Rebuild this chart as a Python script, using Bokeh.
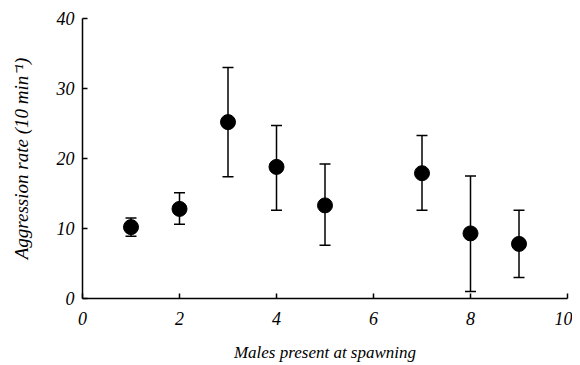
from bokeh.plotting import figure
from bokeh.models import ColumnDataSource, Range1d, FixedTicker, Whisker, TeeHead
from bokeh.embed import file_html
from bokeh.resources import INLINE

# Data
males = [1, 2, 3, 4, 5, 7, 8, 9]
rate_mean = [10.2, 12.8, 25.2, 18.8, 13.3, 17.9, 9.3, 7.8]
rate_upper = [11.5, 15.1, 33.0, 24.7, 19.2, 23.3, 17.5, 12.6]
rate_lower = [8.9, 10.6, 17.4, 12.6, 7.6, 12.6, 1.0, 3.0]
x_ticks = [0, 2, 4, 6, 8, 10]
y_ticks = [0, 10, 20, 30, 40]

src = ColumnDataSource(dict(x=males, y=rate_mean, upper=rate_upper, lower=rate_lower))

p = figure(width=572, height=365, output_backend="svg", toolbar_location=None,
           x_range=Range1d(0, 10), y_range=Range1d(0, 40),
           min_border_left=82, min_border_right=5, min_border_top=18, min_border_bottom=67)

p.outline_line_color = None
p.xgrid.visible = False
p.ygrid.visible = False

FONT = "'Liberation Serif'"
for ax in (p.xaxis[0], p.yaxis[0]):
    ax.axis_line_color = "black"
    ax.axis_line_width = 1.5
    ax.major_tick_in = 5
    ax.major_tick_out = 0
    ax.major_tick_line_width = 1.5
    ax.minor_tick_line_color = None
    ax.major_label_text_font = FONT
    ax.major_label_text_font_style = "italic"
    ax.major_label_text_font_size = "18px"
    ax.major_label_text_color = "black"
    ax.axis_label_text_font = FONT
    ax.axis_label_text_font_style = "italic"
    ax.axis_label_text_font_size = "17px"
    ax.axis_label_text_color = "black"

p.yaxis[0].axis_label_text_font_size = "19px"

p.xaxis.ticker = FixedTicker(ticks=x_ticks)
p.yaxis.ticker = FixedTicker(ticks=y_ticks)
p.xaxis.axis_label = "Males present at spawning"
p.yaxis.axis_label = "Aggression rate (10 min\u207b\u00b9)"
p.xaxis.major_label_standoff = 13
p.yaxis.major_label_standoff = 8
p.xaxis.axis_label_standoff = 15
p.yaxis.axis_label_standoff = 22

w = Whisker(source=src, base="x", upper="upper", lower="lower",
            line_color="black", line_width=1.5,
            upper_head=TeeHead(size=11, line_color="black", line_width=1.5),
            lower_head=TeeHead(size=11, line_color="black", line_width=1.5))
p.add_layout(w)

p.scatter("x", "y", source=src, size=15, fill_color="black", line_color="black")

open("out.html", "w").write(file_html(p, INLINE))
